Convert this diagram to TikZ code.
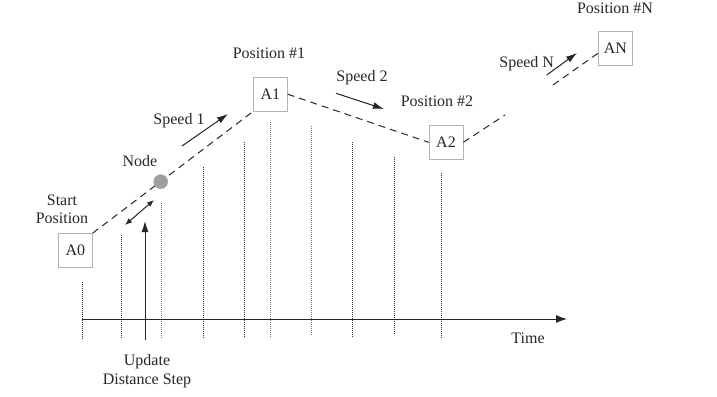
\documentclass[tikz,border=0pt]{standalone}
\usepackage{fontspec}
\setmainfont{Liberation Serif}
\usetikzlibrary{arrows.meta}
\begin{document}
\begin{tikzpicture}[x=1pt,y=-1pt,
  posbox/.style={draw=gray!60, line width=0.7pt, fill=white, minimum width=34pt, minimum height=34pt, inner sep=0pt, font=\fontsize{16}{18}\selectfont, text=black!85},
  lbl/.style={font=\fontsize{16}{18.3}\selectfont, inner sep=0pt, align=center, text=black!85},
  tickline/.style={line width=0.9pt, dash pattern=on 0.9pt off 1.1pt, draw=black!80},
  lighttick/.style={tickline, draw=black!55},
  route/.style={dash pattern=on 7pt off 5pt, line width=1pt, draw=black!85},
  motion/.style={-{Latex[length=11pt,width=7pt]}, line width=1pt, draw=black!85, fill=black!85},
  twoway/.style={{Latex[length=7pt,width=5.5pt]}-{Latex[length=7pt,width=5.5pt]}, line width=1pt, draw=black!85},
]
\useasboundingbox (0,0) rectangle (717,396);

% dotted time ticks
\foreach \x/\t/\b in {82/282/339, 121/235/338, 203/167/338, 244/142/338, 352/142/338, 394/157/335, 441/173/338}
  \draw[tickline] (\x,\t) -- (\x,\b);
\foreach \x/\t/\b in {161/203/338, 270/122/338, 311/126/335}
  \draw[lighttick] (\x,\t) -- (\x,\b);

% time axis
\coordinate (t0) at (82,319);
\coordinate (t1) at (567,319);
\draw[-{Latex[length=11pt,width=8pt]}, line width=0.9pt, draw=black!85] (t0) -- (t1);

% position boxes
\node[posbox] (A0) at (75.3,250.5) {A0};
\node[posbox] (A1) at (270.3,94.2) {A1};
\node[posbox] (A2) at (446,142.3) {A2};
\node[posbox] (AN) at (615.3,48.3) {AN};

% route
\draw[route] (A0.north east) -- (A1.south west);
\draw[route] (A1.east) -- (A2.west);
\coordinate (r1) at (505,115);
\coordinate (r2) at (553,85);
\draw[route] (A2.east) -- (r1);
\draw[route] (r2) -- ([yshift=-5pt]AN.west);

% node on route
\node[circle, fill=gray!75, draw=gray!80, minimum size=14pt, inner sep=0pt] (nd) at (160.7,181.7) {};

% labels
\node[lbl] (start) at (62,209) {Start\\Position};
\node[lbl] (nodelbl) at (140,161) {Node};
\node[lbl] (p1) at (269,53) {Position \#1};
\node[lbl] (p2) at (437,101) {Position \#2};
\node[lbl] (pN) at (615,8.3) {Position \#N};
\node[lbl] (s1) at (179,121) {Speed 1};
\node[lbl] (s2) at (362,78) {Speed 2};
\node[lbl] (sN) at (526.7,63.3) {Speed N};
\node[lbl] (time) at (528,338) {Time};
\node[lbl] (upd) at (147,371) {Update\\Distance Step};

% speed arrows
\coordinate (s1a) at (182,146);
\coordinate (s1b) at (228,114);
\draw[motion] (s1a) -- (s1b);
\coordinate (s2a) at (336,93.3);
\coordinate (s2b) at (384,109);
\draw[motion] (s2a) -- (s2b);
\coordinate (sNa) at (546.7,75);
\coordinate (sNb) at (577,53);
\draw[motion] (sNa) -- (sNb);

% distance step
\coordinate (d0) at (125,225);
\coordinate (d1) at (154,200);
\draw[twoway] (d0) -- (d1);
\coordinate (u0) at (145,340);
\coordinate (u1) at (145,221);
\draw[motion] (u0) -- (u1);
\end{tikzpicture}
\end{document}
